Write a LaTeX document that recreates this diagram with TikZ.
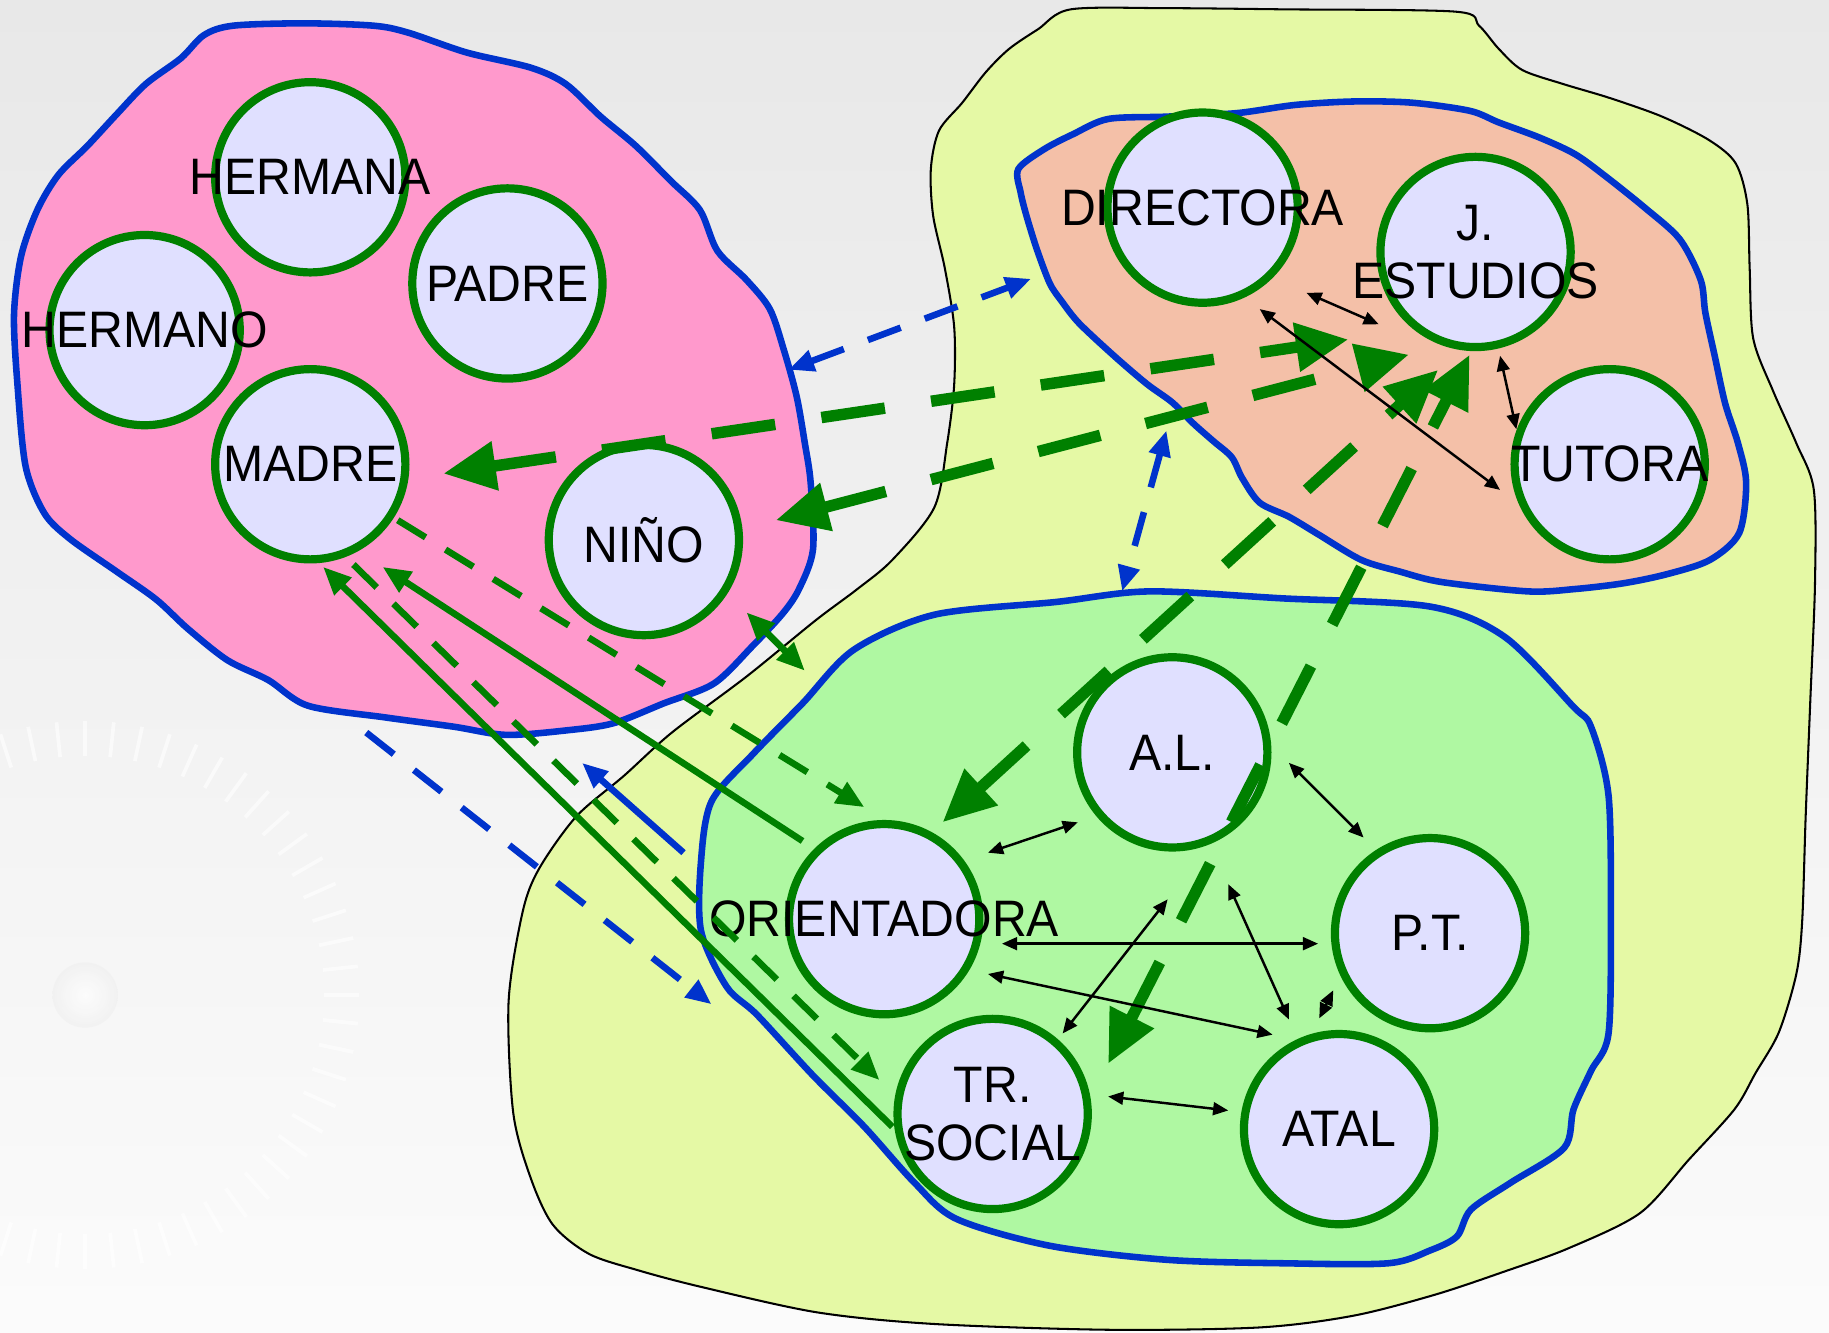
\documentclass[tikz,border=0pt]{standalone}
\usepackage{fontspec}
\setmainfont{Liberation Sans}[FakeStretch=0.94]
\usetikzlibrary{arrows.meta,calc}
\definecolor{bgtop}{gray}{0.91}
\definecolor{bgbot}{gray}{0.985}
\definecolor{familycolor}{HTML}{FF99CC}
\definecolor{schoolcolor}{HTML}{E5F9A5}
\definecolor{teamcolor}{HTML}{F4C0A8}
\definecolor{eoecolor}{HTML}{AFF8A2}
\definecolor{personcolor}{HTML}{E0E0FF}
\definecolor{ringgreen}{HTML}{008000}
\definecolor{linkblue}{HTML}{0033CC}

\tikzset{
  person/.style={circle, draw=ringgreen, line width=2pt, fill=personcolor,
    minimum size=1.63cm, inner sep=0pt},
  every label/.style={font=\fontsize{12.5}{14}\selectfont, align=center, inner sep=0pt},
  blob/.style={draw=linkblue, line width=1.6pt},
  bigflow/.style={draw=ringgreen, line width=2.8pt, dash pattern=on 0.55cm off 0.4cm,
    {Triangle[length=0.45cm,width=0.4cm]}-{Triangle[length=0.45cm,width=0.4cm]}},
  flow/.style={draw=ringgreen, line width=1.6pt, -{Triangle[length=0.24cm,width=0.2cm]}},
  flowdash/.style={flow, dash pattern=on 0.28cm off 0.2cm},
  bluelink/.style={draw=linkblue, line width=1.6pt, -{Triangle[length=0.22cm,width=0.18cm]}},
  bluedash/.style={bluelink, dash pattern=on 0.3cm off 0.22cm},
  team/.style={draw=black, line width=0.6pt,
    {Triangle[length=0.13cm,width=0.11cm]}-{Triangle[length=0.13cm,width=0.11cm]}}
}

\begin{document}
\begin{tikzpicture}[x=0.01cm, y=-0.01cm]
    \useasboundingbox (0,0) rectangle (1568,1142);
    \shade[top color=bgtop, bottom color=bgbot] (0,0) rectangle (1568,1142);

    % compass in the background
    \coordinate (cmp) at (73,853);
    \foreach \a in {0,6,...,354}
        \draw[white, line width=0.9pt, opacity=0.6] ($(cmp)+(\a:205)$) -- ($(cmp)+(\a:235)$);
    \shade[inner color=white, outer color=gray!12, opacity=0.7] (cmp) circle (28);

    % groups
    \draw[fill=schoolcolor, line width=0.5pt] plot[smooth cycle, tension=0.5] coordinates {
        (918,8) (1000,7) (1100,8) (1248,10) (1268,22) (1285,42) (1305,60) (1340,72)
        (1380,84) (1425,100) (1465,120) (1488,140) (1498,175) (1500,230) (1503,290)
        (1520,335) (1540,380) (1555,420) (1556,500) (1552,600) (1548,700) (1545,790)
        (1540,835) (1525,885) (1505,920) (1487,951) (1448,994) (1406,1040) (1345,1070)
        (1290,1090) (1230,1110) (1160,1128) (1080,1138) (950,1140) (800,1135) (700,1125)
        (600,1103) (547,1089) (505,1075) (474,1050) (455,1010) (440,954) (436,859)
        (448,782) (462,745) (494,700) (535,665) (576,628) (640,580) (699,532) (735,505)
        (765,480) (801,435) (812,380) (818,330) (818,280) (810,230) (800,185) (798,145)
        (805,112) (825,88) (845,62) (865,42) (890,25)};
    \draw[blob, fill=familycolor] plot[smooth cycle, tension=0.5] coordinates {
        (175,30) (200,22) (260,20) (320,22) (350,28) (400,45) (455,58) (485,72)
        (515,100) (545,125) (575,155) (600,180) (615,215) (640,240) (660,265) (672,300)
        (683,340) (690,380) (695,414) (697,471) (685,505) (671,526) (645,554) (612,586)
        (569,603) (526,620) (487,626) (434,630) (389,623) (330,615) (264,605) (230,583)
        (195,566) (161,539) (134,514) (100,490) (60,462) (38,440) (22,400) (15,330)
        (12,270) (18,220) (32,180) (50,150) (75,125) (100,98) (125,72) (155,50)};
    \draw[blob, fill=teamcolor] plot[smooth cycle, tension=0.5] coordinates {
        (873,145) (895,128) (920,115) (950,102) (1000,100) (1060,97) (1110,90) (1160,87)
        (1210,88) (1260,95) (1285,105) (1320,118) (1350,132) (1375,150) (1410,178)
        (1440,205) (1458,240) (1462,268) (1470,305) (1479,346) (1490,380) (1497,414)
        (1491,457) (1466,480) (1430,492) (1392,500) (1350,505) (1310,507) (1236,499)
        (1200,490) (1167,480) (1130,458) (1105,443) (1080,431) (1065,410) (1056,392)
        (1040,378) (1023,363) (1005,345) (983,329) (955,305) (925,277) (910,258)
        (900,243) (889,214) (880,185) (875,165)};
    \draw[blob, fill=eoecolor] plot[smooth cycle, tension=0.5] coordinates {
        (601,738) (610,687) (645,647) (688,603) (732,557) (801,527) (906,516) (985,507)
        (1100,513) (1226,520) (1290,546) (1349,606) (1364,623) (1379,682) (1381,787)
        (1379,886) (1364,918) (1349,951) (1341,984) (1295,1014) (1261,1037) (1249,1060)
        (1226,1072) (1190,1083) (1100,1083) (1000,1080) (900,1068) (820,1045) (784,1014)
        (741,966) (697,922) (649,870) (623,846) (601,798)};

    % people
    \node [person, label=center:HERMANA] (hermana) at (266,152) {};
    \node [person, label=center:PADRE] (padre) at (435,243) {};
    \node [person, label=center:HERMANO] (hermano) at (124,283) {};
    \node [person, label=center:MADRE] (madre) at (266,398) {};
    \node [person, label=center:NIÑO] (nino) at (552,463) {};
    \node [person, label=center:DIRECTORA] (directora) at (1031,178) {};
    \node [person, label={center:J.\\ESTUDIOS}] (jest) at (1265,216) {};
    \node [person, label=center:TUTORA] (tutora) at (1380,398) {};
    \node [person, label=center:A.L.] (al) at (1005,645) {};
    \node [person, label=center:P.T.] (pt) at (1226,800) {};
    \node [person, label=center:ORIENTADORA] (orient) at (758,788) {};
    \node [person, label={center:TR.\\SOCIAL}] (trsocial) at (851,955) {};
    \node [person, label=center:ATAL] (atal) at (1148,968) {};

    % family and school
    \draw[bluedash, {Triangle[length=0.22cm,width=0.18cm]}-{Triangle[length=0.22cm,width=0.18cm]}]
        ($(padre)+(241,74)$) -- ($(directora)+(-147,61)$);
    \draw[bluedash, {Triangle[length=0.22cm,width=0.18cm]}-{Triangle[length=0.22cm,width=0.18cm]}]
        ($(directora)+(-31,191)$) -- ($(al)+(-43,-138)$);
    \draw[bluedash] ($(madre)+(48,230)$) -- ($(orient)+(-148,73)$);
    \draw[bluelink] ($(orient)+(-172,-57)$) -- ($(madre)+(233,256)$);

    \draw[flowdash] ($(madre)+(75,48)$) -- ($(orient)+(-17,-96)$);
    \draw[flowdash] ($(madre)+(37,86)$) -- ($(trsocial)+(-97,-29)$);
    \draw[flow] ($(orient)+(-70,-67)$) -- ($(madre)+(62,88)$);
    \draw[flow] ($(trsocial)+(-86,11)$) -- ($(madre)+(11,88)$);
    \draw[flow, {Triangle[length=0.24cm,width=0.2cm]}-{Triangle[length=0.24cm,width=0.2cm]}]
        ($(nino)+(88,62)$) -- ($(nino)+(138,112)$);

    \draw[bigflow] ($(madre)+(114,8)$) -- ($(jest)+(-109,75)$);
    \draw[bigflow] ($(nino)+(113,-17)$) -- ($(jest)+(-57,88)$);
    \draw[bigflow] ($(orient)+(50,-83)$) -- ($(jest)+(-32,101)$);
    \draw[bigflow] ($(trsocial)+(99,-43)$) -- ($(jest)+(-5,88)$);

    % inside the teams
    \draw[team] ($(directora)+(89,73)$) -- ($(jest)+(-83,62)$);
    \draw[team] ($(directora)+(49,87)$) -- ($(tutora)+(-94,22)$);
    \draw[team] ($(jest)+(21,89)$) -- ($(tutora)+(-80,-30)$);
    \draw[team] ($(orient)+(89,-57)$) -- ($(al)+(-81,60)$);
    \draw[team] ($(al)+(100,9)$) -- ($(pt)+(-57,-82)$);
    \draw[team] ($(orient)+(101,21)$) -- ($(pt)+(-96,9)$);
    \draw[team] ($(al)+(-4,126)$) -- ($(trsocial)+(60,-69)$);
    \draw[team] ($(al)+(48,113)$) -- ($(atal)+(-43,-94)$);
    \draw[team] ($(orient)+(89,47)$) -- ($(atal)+(-57,-81)$);
    \draw[team] ($(pt)+(-83,49)$) -- ($(atal)+(-17,-95)$);
    \draw[team] ($(trsocial)+(99,-15)$) -- ($(atal)+(-95,-16)$);
\end{tikzpicture}
\end{document}
